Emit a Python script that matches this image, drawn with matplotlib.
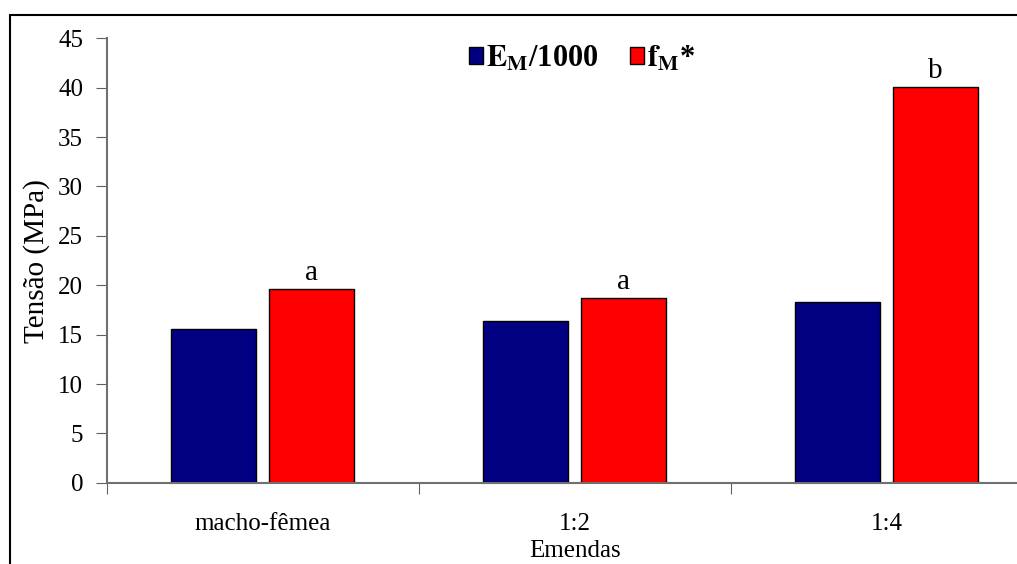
import numpy as np
import matplotlib.pyplot as plt
from matplotlib.patches import Rectangle

plt.rcParams['font.family'] = 'Liberation Serif'
plt.rcParams['mathtext.fontset'] = 'stix'

emendas = ['macho-fêmea', '1:2', '1:4']
em_1000 = [15.6, 16.4, 18.3]
fm = [19.6, 18.7, 40.1]
letras = ['a', 'a', 'b']

fig = plt.figure(figsize=(10.17, 5.64), dpi=100)
ax = fig.add_axes([0.105, 0.144, 0.920, 0.788])

x = np.arange(len(emendas)) + 0.5
w = 0.272
off = 0.157
ax.bar(x - off, em_1000, w, color='#000080', edgecolor='black', linewidth=1,
       label=r'$\mathbf{E_M}$/1000')
ax.bar(x + off, fm, w, color='#ff0000', edgecolor='black', linewidth=1,
       label=r'$\mathbf{f_M}$*')
for xi, v, t in zip(x, fm, letras):
    ax.text(xi + off, v + 0.3, t, ha='center', va='bottom', fontsize=21)

ax.set_xlim(0, 3)
ax.set_ylim(0, 45)
ax.set_yticks(range(0, 46, 5))
ax.set_xticks([0, 1, 2, 3])
ax.set_xticklabels([])
ax.set_xticks(x, minor=True)
ax.set_xticklabels(emendas, minor=True)
ax.tick_params(axis='x', which='minor', length=0, pad=22, labelsize=18)
ax.tick_params(axis='x', which='major', direction='out', length=8, color='#606060')
ax.tick_params(axis='y', length=8, color='#606060', labelsize=18, pad=9)
for s in ['top', 'right']:
    ax.spines[s].set_visible(False)
for s in ['left', 'bottom']:
    ax.spines[s].set_color('#707070')
    ax.spines[s].set_linewidth(1.5)

ax.set_xlabel('Emendas', fontsize=18, labelpad=3)
ax.set_ylabel('Tensão (MPa)', fontsize=21, labelpad=6)

leg = ax.legend(loc='upper center', bbox_to_anchor=(0.508, 1.05), ncol=2, frameon=False,
                prop={'weight': 'bold', 'size': 22}, handlelength=0.46, handleheight=0.46,
                handletextpad=0.1, columnspacing=1.0)

fig.patches.append(Rectangle((0.0098, -0.1), 1.2, 0.1 + 0.973, transform=fig.transFigure,
                             fill=False, edgecolor='black', linewidth=1.5))

fig.savefig('out.png', dpi=100)
